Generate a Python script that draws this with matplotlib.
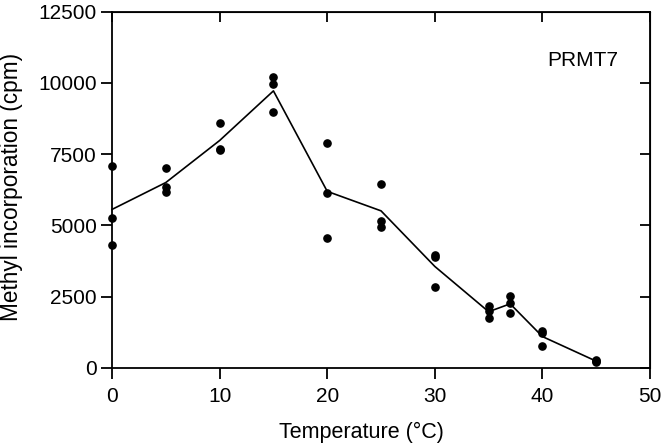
import matplotlib
matplotlib.use('Agg')
import matplotlib.pyplot as plt
import numpy as np

plt.rcParams['font.family'] = ['Liberation Sans', 'DejaVu Sans']

# Temperature (°C) and replicate measurements (cpm)
temps = [0, 5, 10, 15, 20, 25, 30, 35, 37, 40, 45]
rep1 = [7100, 7010, 8600, 10210, 7890, 6440, 3960, 2170, 2520, 1310, 290]
rep2 = [5270, 6340, 7650, 9975, 6140, 5160, 3890, 1990, 2290, 1210, 230]
rep3 = [4310, 6160, 7680, 8965, 4550, 4930, 2830, 1760, 1940, 785, 195]

xticks = [0, 10, 20, 30, 40, 50]
yticks = [0, 2500, 5000, 7500, 10000, 12500]

reps = np.array([rep1, rep2, rep3])
means = reps.mean(axis=0)

fig = plt.figure(figsize=(6.64, 4.46), dpi=100)
ax = fig.add_axes([0.1687, 0.1749, 0.8103, 0.7993])

for r in reps:
    ax.plot(temps, r, 'o', color='black', markersize=5.2, clip_on=False, zorder=3)
ax.plot(temps, means, '-', color='black', linewidth=1.2, clip_on=False)

ax.set_xlim(0, 50)
ax.set_ylim(0, 12500)
ax.set_xticks(xticks)
ax.set_yticks(yticks)

for s in ax.spines.values():
    s.set_linewidth(1.3)

ax.tick_params(axis='both', direction='out', length=8, width=1.3, labelsize=15, pad=3)
ax.tick_params(axis='x', pad=6)
# inward ticks on top and right
ax2 = ax.secondary_xaxis('top')
ax2.set_xticks(xticks)
ax2.tick_params(direction='in', length=7, width=1.3, labeltop=False)
ax3 = ax.secondary_yaxis('right')
ax3.set_yticks(yticks)
ax3.tick_params(direction='in', length=7, width=1.3, labelright=False)

ax.set_xlabel('Temperature (°C)', fontsize=15.5)
ax.set_ylabel('Methyl incorporation (cpm)', fontsize=16.3)
ax.xaxis.set_label_coords(0.463, -0.15)
ax.yaxis.set_label_coords(-0.166, 0.508)

ax.text(47.0, 10780, 'PRMT7', fontsize=15, ha='right', va='center')

fig.savefig('out.png', dpi=100)
